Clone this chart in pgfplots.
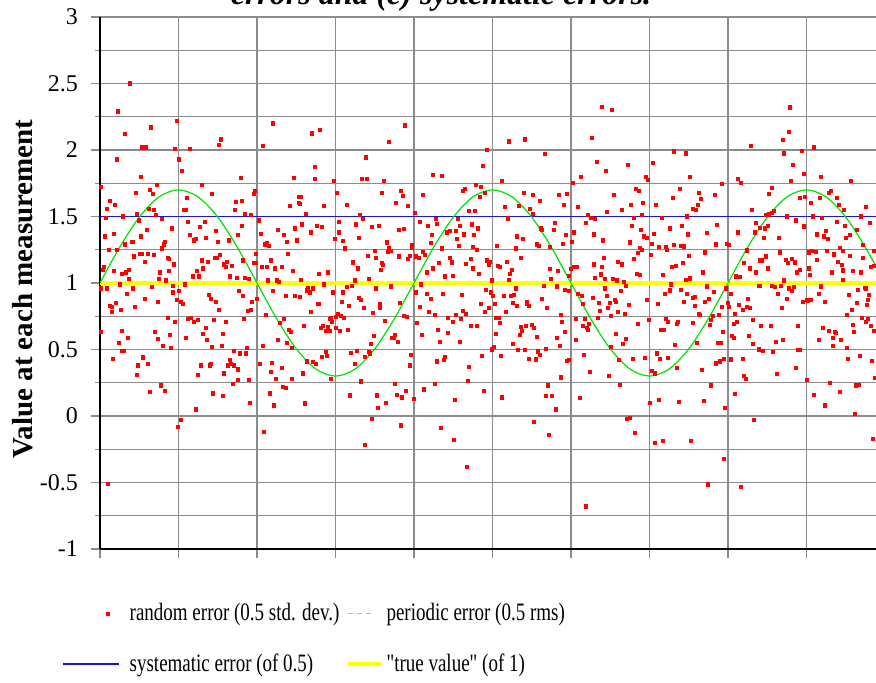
\documentclass[border=0pt]{standalone}
\usepackage{fontspec}
\setmainfont{Liberation Serif}
\newfontfamily\legendfont{Liberation Serif}[FakeStretch=0.76]
\usepackage{pgfplots}
\pgfplotsset{compat=1.18}
\definecolor{gridgray}{RGB}{140,140,140}
\definecolor{ptred}{RGB}{255,0,0}
\definecolor{sysblue}{RGB}{20,20,220}
\definecolor{pergreen}{RGB}{0,225,0}
\definecolor{legendgreen}{RGB}{110,240,110}
\definecolor{trueyellow}{RGB}{255,255,0}

\pgfplotstableread{
x y
0 1
19.6 1.268
39.3 1.495
58.9 1.647
78.5 1.7
98.1 1.647
117.8 1.495
137.4 1.268
157 1
176.6 0.732
196.3 0.505
215.9 0.353
235.5 0.3
255.1 0.353
274.8 0.505
294.4 0.732
314 1
333.6 1.268
353.3 1.495
372.9 1.647
392.5 1.7
412.1 1.647
431.8 1.495
451.4 1.268
471 1
490.6 0.732
510.3 0.505
529.9 0.353
549.5 0.3
569.1 0.353
588.8 0.505
608.4 0.732
628 1
647.6 1.268
667.3 1.495
686.9 1.647
706.5 1.7
726.1 1.647
745.8 1.495
765.4 1.268
785 1
}\periodic

\pgfplotstableread{
x y
30 2.50
18 2.29
25 2.12
51 2.17
77 2.22
42 2.02
46 2.02
75 2.01
90 2.01
121 2.08
119 2.04
173 2.20
163 2.03
17 1.93
79 1.93
82 1.84
41 1.80
141 1.79
194 1.79
1 1.72
57 1.74
102 1.74
50 1.70
36 1.68
53 1.67
155 1.69
154 1.67
112 1.67
87 1.64
10 1.62
15 1.59
136 1.61
142 1.62
199 1.65
190 1.58
199 1.60
49 1.56
54 1.55
7 1.56
84 1.55
86 1.55
135 1.55
37 1.52
56 1.51
145 1.52
151 1.51
23 1.50
6 1.49
62 1.48
159 1.47
39 1.47
72 1.41
88 1.46
105 1.46
100 1.42
142 1.43
195 1.41
47 1.40
5 1.35
14 1.37
32 1.31
33 1.31
41 1.35
90 1.36
94 1.32
96 1.33
106 1.34
116 1.39
118 1.31
129 1.32
138 1.36
161 1.37
165 1.29
167 1.30
169 1.28
178 1.40
184 1.36
187 1.31
197 1.32
25 1.29
17 1.25
9 1.25
40 1.22
42 1.22
48 1.22
54 1.21
62 1.26
64 1.29
65 1.31
34 1.20
45 1.16
68 1.19
69 1.18
74 1.14
102 1.17
108 1.16
115 1.19
117 1.19
120 1.21
124 1.14
127 1.16
126 1.12
132 1.13
143 1.17
156 1.22
154 1.15
156 1.15
162 1.12
167 1.12
171 1.17
175 1.11
182 1.12
188 1.22
193 1.09
4 1.12
3 1.10
14 1.09
26 1.08
29 1.10
60 1.08
69 1.09
59 1.03
22 1.07
29 1.03
66 1.02
97 1.09
93 1.05
99 1.05
103 1.11
130 1.05
137 1.04
145 1.04
149 1.03
168 1.02
177 1.02
179 1.01
20 0.99
73 0.98
85 0.99
1 0.96
7 0.96
33 0.96
52 0.97
79 0.94
73 0.93
139 0.94
173 0.94
186 0.90
195 0.90
27 0.92
45 0.88
58 0.86
77 0.87
81 0.86
83 0.84
109 0.91
111 0.88
116 0.86
143 0.90
152 0.86
157 0.88
16 0.85
10 0.83
12 0.82
21 0.80
12 0.78
35 0.82
119 0.80
148 0.79
151 0.80
166 0.76
184 0.73
68 0.74
75 0.71
88 0.73
91 0.74
94 0.71
98 0.72
114 0.72
126 0.71
144 0.73
180 0.70
106 0.66
22 0.64
55 0.63
1 0.63
103 0.62
123 0.62
189 0.65
191 0.63
28 0.59
58 0.58
70 0.61
86 0.59
107 0.57
178 0.57
187 0.55
19 0.55
63 0.53
71 0.51
122 0.53
112 0.52
147 0.51
163 0.53
192 0.51
22 0.49
24 0.49
134 0.49
140 0.47
146 0.47
43 0.44
13 0.43
38 0.38
48 0.39
37 0.31
101 0.38
110 0.38
111 0.39
98 0.31
128 0.38
131 0.39
134 0.38
130 0.42
138 0.35
124 0.32
160 0.39
172 0.40
182 0.36
171 0.33
176 0.28
192 0.28
61 0.23
50 0.18
65 0.19
133 0.24
138 0.27
149 0.27
183 0.22
186 0.21
113 0.17
123 0.15
170 0.17
150 0.10
174 0.08
96 0.05
81 -0.03
78 -0.08
164 -0.12
8 -0.51
212 2.125
220 2.15
305 2.185
289 2.06
409 2.065
425 2.08
387 2.00
445 1.97
266 1.945
215 1.87
215 1.78
262 1.78
267 1.78
234 1.765
284 1.765
333 1.81
342 1.805
383 1.88
402 1.765
376 1.74
381 1.72
473 1.75
481 1.80
201 1.65
200 1.595
237 1.68
282 1.675
301 1.69
303 1.655
296 1.60
308 1.58
323 1.665
363 1.695
365 1.71
380 1.65
385 1.68
424 1.68
433 1.66
440 1.62
459 1.66
467 1.67
464 1.59
478 1.57
224 1.58
247 1.59
206 1.52
405 1.575
419 1.58
430 1.56
369 1.54
375 1.54
260 1.51
263 1.48
315 1.525
433 1.52
202 1.44
217 1.43
222 1.42
211 1.38
239 1.46
256 1.44
272 1.42
279 1.43
299 1.40
304 1.405
320 1.46
328 1.43
336 1.48
337 1.445
358 1.48
360 1.43
372 1.44
378 1.41
408 1.485
441 1.41
442 1.40
455 1.45
454 1.40
474 1.38
486 1.45
332 1.36
347 1.38
350 1.39
356 1.39
364 1.365
374 1.36
357 1.33
417 1.35
423 1.33
466 1.36
235 1.33
239 1.38
243 1.315
259 1.34
287 1.305
245 1.26
289 1.26
288 1.235
291 1.24
312 1.285
312 1.265
331 1.30
342 1.26
359 1.28
373 1.27
377 1.25
397 1.28
416 1.26
437 1.29
439 1.28
450 1.27
463 1.295
472 1.31
268 1.205
275 1.24
276 1.19
299 1.20
310 1.205
308 1.18
316 1.20
319 1.19
323 1.235
325 1.21
253 1.155
258 1.11
282 1.15
283 1.135
281 1.10
339 1.15
333 1.11
350 1.19
352 1.155
366 1.145
371 1.18
373 1.11
379 1.07
387 1.17
390 1.16
389 1.14
398 1.13
400 1.12
407 1.16
412 1.10
410 1.07
421 1.19
450 1.105
458 1.09
471 1.105
474 1.12
477 1.12
469 1.055
219 1.07
228 1.08
255 1.02
269 1.03
327 1.08
345 1.05
353 1.055
392 1.02
409 1.025
451 1.03
201 1.025
502 2.325
512 2.30
690 2.32
492 2.09
689 2.135
683 2.075
651 2.03
714 2.02
574 1.99
586 1.975
684 1.975
702 1.995
497 1.91
528 1.885
553 1.90
506 1.84
693 1.89
704 1.82
546 1.80
548 1.775
590 1.80
638 1.78
641 1.755
622 1.745
691 1.765
721 1.795
751 1.77
536 1.705
539 1.69
580 1.71
599 1.68
514 1.66
573 1.64
601 1.63
615 1.665
672 1.715
669 1.67
700 1.64
705 1.645
711 1.60
720 1.64
729 1.68
731 1.69
737 1.64
543 1.605
556 1.59
531 1.59
522 1.55
507 1.535
598 1.585
593 1.56
596 1.55
652 1.55
674 1.54
672 1.53
739 1.585
744 1.55
766 1.57
488 1.51
491 1.49
495 1.48
542 1.51
534 1.49
562 1.49
587 1.50
666 1.51
669 1.515
687 1.50
713 1.50
722 1.49
761 1.50
696 1.47
737 1.46
770 1.45
532 1.43
582 1.43
617 1.435
656 1.45
668 1.43
665 1.41
660 1.415
704 1.425
745 1.43
541 1.40
570 1.41
494 1.365
588 1.365
607 1.375
638 1.38
655 1.38
726 1.39
757 1.40
544 1.35
547 1.34
554 1.37
664 1.34
679 1.34
717 1.365
724 1.35
728 1.33
746 1.34
750 1.36
503 1.32
530 1.305
552 1.295
574 1.285
581 1.28
584 1.275
559 1.27
566 1.27
567 1.25
616 1.29
627 1.295
629 1.285
540 1.265
542 1.25
538 1.225
551 1.21
589 1.205
605 1.23
647 1.245
680 1.23
709 1.23
712 1.24
716 1.235
727 1.24
734 1.215
740 1.265
743 1.24
750 1.205
763 1.285
763 1.19
774 1.24
504 1.19
534 1.18
518 1.16
522 1.14
494 1.14
502 1.12
666 1.20
660 1.17
662 1.17
644 1.15
650 1.11
656 1.08
668 1.11
686 1.175
688 1.15
692 1.18
695 1.155
700 1.10
697 1.08
709 1.11
717 1.175
738 1.16
742 1.135
743 1.095
753 1.09
761 1.08
771 1.12
774 1.13
732 1.08
537 1.07
540 1.06
576 1.13
572 1.12
583 1.15
603 1.08
563 1.06
501 1.065
495 1.04
505 1.03
513 1.03
517 1.02
524 1.01
586 1.025
590 1.035
636 1.05
640 1.045
684 1.02
710 1.06
743 1.025
208 0.96
210 0.93
213 0.96
207 0.945
224 0.99
233 0.93
247 0.97
252 0.98
243 0.93
276 0.96
291 0.975
321 0.99
200 0.895
218 0.845
219 0.845
242 0.86
249 0.83
259 0.89
261 0.87
264 0.81
280 0.84
280 0.81
273 0.775
300 0.85
211 0.785
316 0.93
327 0.92
331 0.88
343 0.92
362 0.91
320 0.82
329 0.78
335 0.76
363 0.79
366 0.77
356 0.76
381 0.84
386 0.95
391 0.93
393 0.90
389 0.81
385 0.78
395 0.84
404 0.90
411 0.90
414 0.91
416 0.96
413 0.85
417 0.83
406 0.78
427 0.86
427 0.845
429 0.83
442 0.88
447 0.81
444 0.98
457 0.975
465 0.95
469 0.94
478 0.92
482 0.90
483 0.845
461 0.76
476 0.73
485 0.73
204 0.675
221 0.66
223 0.68
226 0.64
228 0.67
230 0.64
231 0.735
232 0.71
230 0.73
236 0.745
238 0.77
236 0.66
241 0.75
244 0.74
240 0.64
248 0.65
274 0.60
271 0.54
285 0.715
295 0.61
292 0.585
294 0.59
298 0.555
304 0.75
307 0.745
317 0.70
322 0.61
338 0.65
348 0.625
340 0.56
348 0.74
353 0.71
361 0.73
360 0.56
371 0.675
377 0.68
396 0.74
399 0.74
400 0.70
396 0.62
394 0.52
392 0.50
421 0.67
422 0.64
420 0.61
426 0.68
432 0.685
434 0.665
437 0.595
413 0.545
418 0.495
425 0.495
446 0.505
457 0.585
460 0.53
462 0.71
465 0.635
476 0.575
483 0.68
487 0.66
269 0.48
270 0.47
251 0.475
257 0.49
226 0.48
227 0.45
222 0.445
207 0.41
213 0.405
216 0.39
255 0.39
265 0.445
203 0.32
231 0.28
261 0.26
311 0.46
310 0.38
295 0.24
337 0.41
344 0.42
345 0.445
335 0.24
369 0.37
368 0.265
382 0.45
401 0.45
429 0.43
436 0.425
438 0.485
440 0.46
467 0.415
469 0.42
461 0.29
448 0.23
484 0.46
250 0.155
277 0.155
278 0.06
286 0.10
297 0.16
302 0.14
306 0.19
314 0.13
324 0.20
355 0.12
384 0.19
402 0.14
446 0.15
452 0.15
456 0.05
480 0.135
205 0.095
272 -0.02
301 -0.07
341 -0.09
354 -0.18
265 -0.22
434 -0.045
449 -0.14
367 -0.38
486 -0.68
505 0.96
521 0.94
526 0.98
493 0.89
507 0.905
499 0.85
510 0.85
515 0.87
516 0.855
529 0.835
508 0.81
500 0.79
518 0.785
525 0.77
547 0.87
558 0.84
565 0.92
570 0.945
571 0.99
581 0.95
587 0.915
584 0.86
593 0.89
595 0.895
595 0.83
605 0.86
609 0.88
607 0.975
614 0.935
599 0.77
600 0.76
622 0.82
626 0.96
628 0.85
629 0.82
631 0.92
635 0.77
639 0.835
643 0.795
647 0.82
650 0.81
648 0.88
659 0.98
660 0.98
672 0.98
675 0.97
681 0.98
678 0.92
687 0.88
689 0.96
692 0.94
694 0.97
682 0.81
703 0.86
707 0.875
708 0.865
711 0.875
719 0.92
721 0.975
725 0.86
749 0.91
758 0.95
765 0.965
766 0.96
769 0.91
768 0.87
767 0.835
757 0.85
752 0.80
747 0.76
653 0.72
498 0.74
489 0.69
488 0.65
511 0.75
538 0.69
549 0.72
566 0.73
568 0.71
561 0.65
564 0.645
578 0.71
577 0.69
593 0.70
611 0.72
610 0.685
613 0.755
619 0.76
623 0.635
516 0.62
526 0.58
523 0.54
511 0.52
575 0.535
597 0.55
618 0.55
621 0.55
634 0.69
637 0.71
632 0.60
634 0.585
649 0.60
653 0.54
661 0.68
671 0.68
676 0.56
683 0.575
698 0.675
659 0.50
663 0.49
673 0.48
698 0.495
700 0.495
723 0.665
729 0.64
735 0.63
736 0.625
733 0.59
741 0.575
719 0.575
733 0.53
747 0.51
753 0.685
754 0.635
762 0.74
766 0.71
768 0.73
771 0.68
774 0.64
533 0.43
519 0.42
545 0.435
557 0.47
560 0.43
568 0.435
552 0.34
555 0.32
577 0.36
602 0.345
616 0.395
620 0.41
624 0.43
631 0.425
643 0.43
490 0.33
509 0.30
677 0.315
644 0.30
646 0.28
696 0.36
707 0.27
730 0.25
748 0.43
760 0.45
772 0.415
756 0.23
759 0.235
775 0.285
520 0.235
611 0.23
635 0.165
550 0.10
559 0.12
579 0.105
604 0.115
625 0.06
714 0.16
725 0.08
740 0.18
755 0.015
527 -0.02
530 -0.015
535 -0.13
555 -0.20
563 -0.19
591 -0.19
654 -0.03
624 -0.32
608 -0.515
641 -0.535
773 -0.17
}\randomdata

\begin{document}
\begin{tikzpicture}
\begin{axis}[
  name=ax,
  scale only axis,
  width=388pt, height=266pt,
  xmin=0, xmax=776, ymin=-1, ymax=3,
  axis x line*=bottom, axis y line*=left,
  axis line style={black, line width=0.7pt},
  xtick={0,78.5,...,776},
  xticklabels={},
  ytick={-1,-0.5,...,3},
  minor y tick num=1,
  grid=both,
  major grid style={gridgray, line width=0.75pt},
  minor grid style={gridgray, line width=0.65pt},
  tick style={gridgray, line width=0.7pt},
  tick align=outside,
  major tick length=4.5pt, minor tick length=2.5pt,
  tick label style={font=\fontsize{12}{14}\selectfont},
  /pgf/number format/assume math mode=true,
  yticklabel style={xshift=-3pt},
  ylabel={Value at each measurement},
  ylabel style={font=\fontsize{14.5}{17}\selectfont\bfseries, at={([xshift=-38.5pt,yshift=-3pt]axis description cs:0,0.5)}, anchor=center},
  legend columns=2,
  legend cell align=left,
  legend style={at={(0,0)}, anchor=north west, xshift=-19pt, yshift=-25pt, draw=none, fill=none, inner sep=0pt, font=\legendfont\fontsize{12.5}{14}\selectfont, row sep=11pt, /tikz/every even column/.append style={column sep=1pt}},
]
\addlegendimage{legend image code/.code={\fill[ptred] (21.6pt,-0.8pt) rectangle (23.2pt,0.8pt); \path (31pt,0pt);}}
\addlegendentry{random error (0.5 std. dev.)}
\addlegendimage{legend image code/.code={\draw[legendgreen, line width=0.8pt, dash pattern=on 2.6pt off 2pt] (0pt,0pt) -- (13pt,0pt);}}
\addlegendentry{periodic error (0.5 rms)}
\addlegendimage{legend image code/.code={\draw[sysblue, line width=0.9pt] (0pt,0pt) -- (28pt,0pt); \path (31pt,0pt);}}
\addlegendentry{systematic error (of 0.5)}
\addlegendimage{legend image code/.code={\draw[trueyellow, line width=2pt] (0pt,0pt) -- (16.5pt,0pt);}}
\addlegendentry{"true value" (of 1)}

\addplot[forget plot, trueyellow, line width=2pt] coordinates {(0,1) (776,1)};
\addplot[forget plot, sysblue, line width=0.9pt] coordinates {(0,1.5) (776,1.5)};
\addplot[forget plot, pergreen, line width=0.6pt, smooth] table[x=x, y=y] {\periodic};
\addplot[forget plot, only marks, mark=square*, mark size=0.8pt, mark options={ptred, draw=ptred, fill=ptred}] table[x=x, y=y] {\randomdata};
\end{axis}
\node[font=\fontsize{16}{19}\selectfont\bfseries\itshape, anchor=base] at ([xshift=-23.5pt, yshift=6pt]ax.north) {errors and (c) systematic errors.};
\pgfresetboundingbox
\path[use as bounding box] ([xshift=-50pt,yshift=-67pt]ax.south west) rectangle ([yshift=8.5pt]ax.north east);
\end{tikzpicture}
\end{document}
